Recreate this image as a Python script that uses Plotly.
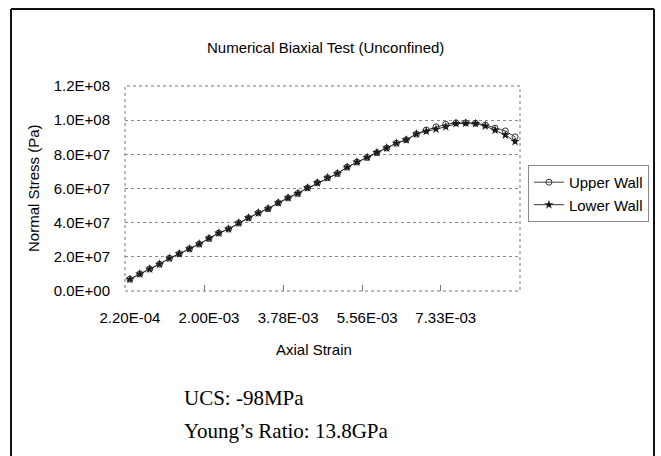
import plotly.graph_objects as go

# ---- data ----
strain = [2.20e-4, 4.42e-4, 6.64e-4, 8.87e-4, 1.11e-3, 1.33e-3, 1.56e-3, 1.78e-3,
          2.00e-3, 2.22e-3, 2.44e-3, 2.67e-3, 2.89e-3, 3.11e-3, 3.33e-3, 3.56e-3,
          3.78e-3, 4.00e-3, 4.22e-3, 4.44e-3, 4.67e-3, 4.89e-3, 5.11e-3, 5.33e-3,
          5.56e-3, 5.78e-3, 6.00e-3, 6.22e-3, 6.44e-3, 6.67e-3, 6.89e-3, 7.11e-3,
          7.33e-3, 7.56e-3, 7.78e-3, 8.00e-3, 8.22e-3, 8.44e-3, 8.67e-3, 8.89e-3]

lower_wall = [6.9e6, 1.00e7, 1.29e7, 1.57e7, 1.92e7, 2.18e7, 2.47e7, 2.75e7,
              3.08e7, 3.39e7, 3.63e7, 3.98e7, 4.28e7, 4.57e7, 4.82e7, 5.16e7,
              5.45e7, 5.71e7, 6.04e7, 6.33e7, 6.63e7, 6.88e7, 7.25e7, 7.55e7,
              7.82e7, 8.10e7, 8.37e7, 8.65e7, 8.85e7, 9.19e7, 9.35e7, 9.47e7,
              9.61e7, 9.80e7, 9.82e7, 9.80e7, 9.66e7, 9.41e7, 9.13e7, 8.75e7]

upper_wall = [6.9e6, 1.00e7, 1.29e7, 1.57e7, 1.92e7, 2.18e7, 2.47e7, 2.75e7,
              3.08e7, 3.39e7, 3.63e7, 3.98e7, 4.28e7, 4.57e7, 4.82e7, 5.16e7,
              5.45e7, 5.71e7, 6.04e7, 6.33e7, 6.63e7, 6.88e7, 7.25e7, 7.55e7,
              7.82e7, 8.10e7, 8.37e7, 8.65e7, 8.85e7, 9.19e7, 9.42e7, 9.61e7,
              9.76e7, 9.84e7, 9.84e7, 9.82e7, 9.72e7, 9.53e7, 9.37e7, 9.02e7]

y_ticks = [0, 2e7, 4e7, 6e7, 8e7, 1e8, 1.2e8]
x_label_idx = [0, 8, 16, 24, 32]

title_text = "Numerical Biaxial Test (Unconfined)"
x_title = "Axial Strain"
y_title = "Normal Stress (Pa)"
notes = ["UCS: -98MPa", "Young\u2019s Ratio: 13.8GPa"]

# ---- figure ----
SANS = "Liberation Sans, Arial, sans-serif"
SERIF = "Liberation Serif, Times New Roman, serif"

step = (strain[-1] - strain[0]) / (len(strain) - 1)
x_range = [strain[0] - step / 2, strain[-1] + step / 2]
tick_vals = [strain[i] for i in x_label_idx]
tick_text = [f"{v:.2E}" for v in tick_vals]
minor_vals = [(strain[i - 1] + strain[i]) / 2 for i in x_label_idx[1:]]

fig = go.Figure()
fig.add_trace(go.Scatter(
    x=strain, y=upper_wall, name="Upper Wall", mode="lines+markers",
    line=dict(color="#444444", width=1),
    marker=dict(symbol="circle-open", size=6, color="#333333", line=dict(width=1)),
))
fig.add_trace(go.Scatter(
    x=strain, y=lower_wall, name="Lower Wall", mode="lines+markers",
    line=dict(color="#333333", width=1),
    marker=dict(symbol="star", size=7, color="#1a1a1a"),
))

fig.update_layout(
    width=661, height=456,
    margin=dict(l=125, r=141, t=86, b=165),
    paper_bgcolor="white", plot_bgcolor="white",
    font=dict(family=SANS, size=15, color="black"),
    showlegend=True,
    legend=dict(x=1.02, y=0.615, xanchor="left", yanchor="top",
                bordercolor="#888888", borderwidth=1, bgcolor="white",
                font=dict(size=15), itemwidth=30, tracegroupgap=0),
)

fig.update_xaxes(
    range=x_range, showgrid=False, zeroline=False, showline=False,
    tickvals=tick_vals, ticktext=tick_text, ticks="", ticklabelstandoff=16,
    minor=dict(tickvals=minor_vals, ticks="inside", ticklen=6,
               tickcolor="#777777", tickwidth=1, showgrid=False),
)
fig.update_yaxes(
    range=[0, 1.2e8], tickvals=y_ticks, ticktext=[f"{v:.1E}" for v in y_ticks],
    showgrid=True, gridcolor="#8a8a8a", griddash="dot", gridwidth=1,
    zeroline=False, showline=False, ticks="", ticklabelstandoff=14,
)

# plot-area border (dotted) and outer chart frame
fig.add_shape(type="rect", xref="paper", yref="paper", x0=0, x1=1, y0=0, y1=1,
              line=dict(color="#777777", width=1, dash="dot"))
frame = dict(color="#111111", width=2)
xl, xr, yt, yb = (11 - 125) / 395, (654 - 125) / 395, (291 - 9) / 205, (291 - 470) / 205
fig.add_shape(type="line", xref="paper", yref="paper", x0=xl, x1=xl, y0=yb, y1=yt, line=frame)
fig.add_shape(type="line", xref="paper", yref="paper", x0=xr, x1=xr, y0=yb, y1=yt, line=frame)
fig.add_shape(type="line", xref="paper", yref="paper", x0=xl, x1=xr, y0=yt, y1=yt, line=frame)

# titles
fig.add_annotation(text=title_text, xref="paper", yref="paper",
                   x=(325 - 125) / 395, y=(291 - 47) / 205, showarrow=False,
                   xanchor="center", yanchor="middle", font=dict(size=15))
fig.add_annotation(text=x_title, xref="paper", yref="paper",
                   x=(314 - 125) / 395, y=(291 - 349) / 205, showarrow=False,
                   xanchor="center", yanchor="middle", font=dict(size=15))
fig.add_annotation(text=y_title, xref="paper", yref="paper", textangle=-90,
                   x=(33 - 125) / 395, y=(291 - 188) / 205, showarrow=False,
                   xanchor="center", yanchor="middle", font=dict(size=15))

# notes below chart
for txt, ypx in zip(notes, [398, 431]):
    fig.add_annotation(text=txt, xref="paper", yref="paper",
                       x=(182 - 125) / 395, y=(291 - ypx) / 205, showarrow=False,
                       xanchor="left", yanchor="middle",
                       font=dict(family=SERIF, size=21, color="black"))

fig.write_html("out.html", config={"displayModeBar": False},
               post_script="document.body.style.margin='0';document.body.style.overflow='hidden';")
